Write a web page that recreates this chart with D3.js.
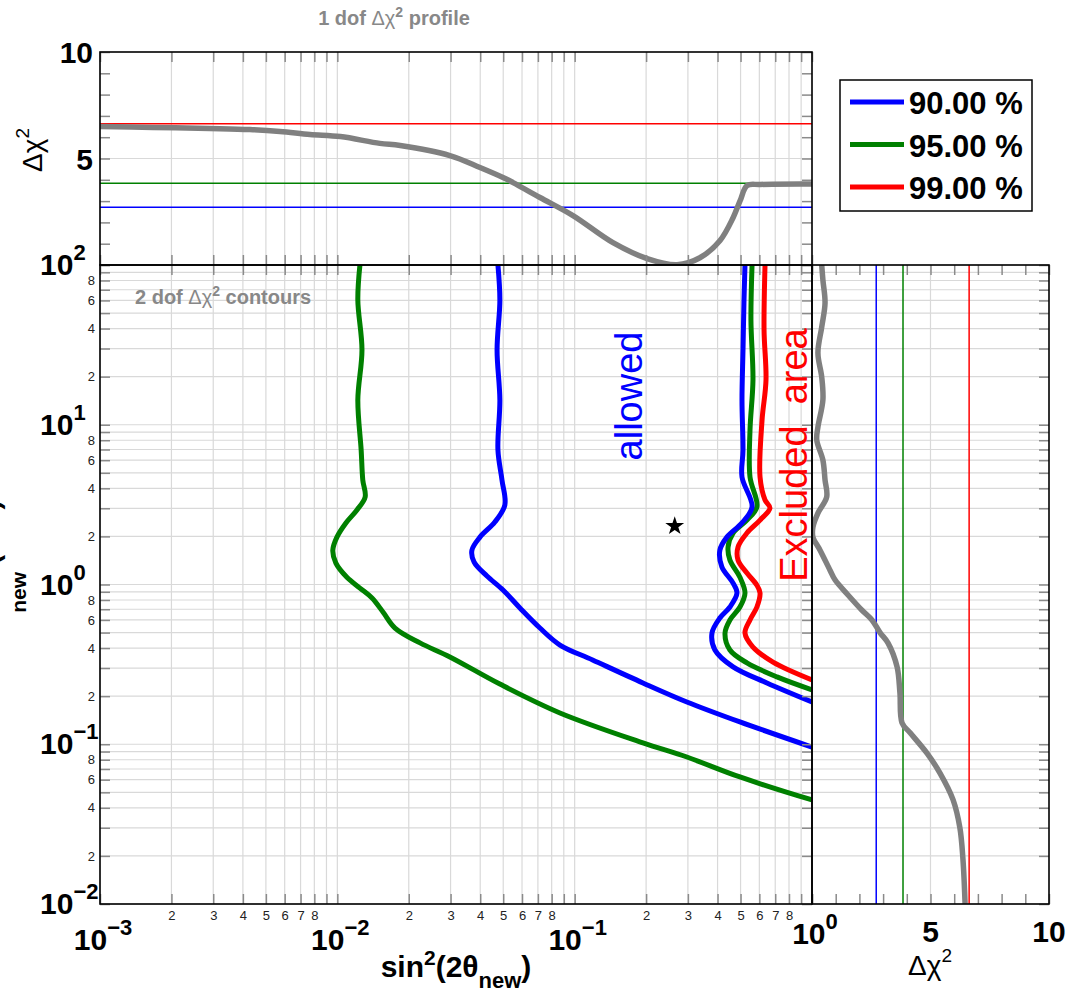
<!DOCTYPE html>
<html>
<head>
<meta charset="utf-8">
<script src="https://cdn.jsdelivr.net/npm/d3@7"></script>
<style>
body { margin: 0; background: #fff; }
svg { display: block; }
text { font-family: "Liberation Sans", Arial, Helvetica, sans-serif; }
</style>
</head>
<body>
<div id="chart"></div>
<script>
// confidence levels (1 dof thresholds for the profiles)
var clNames = ["90.00 %", "95.00 %", "99.00 %"];
var clColors = ["#0000ff", "#008000", "#ff0000"];
var clChi2 = [2.71, 3.84, 6.63];

// 1 dof profile vs sin^2(2theta)
var profSin = [0.001, 0.00167, 0.0029, 0.00428, 0.00573, 0.00767, 0.0103, 0.0151, 0.0184, 0.0298, 0.0399,
    0.0499, 0.055, 0.0714, 0.0984, 0.145, 0.202, 0.27, 0.337, 0.409, 0.465, 0.498, 0.533, 0.604, 1.0];
var profSinChi2 = [6.50, 6.46, 6.41, 6.36, 6.27, 6.13, 6.03, 5.71, 5.61, 5.14, 4.58,
    4.11, 3.87, 3.17, 2.32, 1.05, 0.30, 0.01, 0.34, 1.14, 2.22, 3.02, 3.73, 3.78, 3.80];

// 1 dof profile vs dm2
var profDm = [100, 80.5, 57.8, 40.9, 28.1, 19.9, 14.3, 9.68, 8.03, 6.01, 4.51, 3.53, 2.80, 2.29, 1.98, 1.64,
    1.23, 1.07, 0.86, 0.69, 0.60, 0.50, 0.43, 0.305, 0.21, 0.136, 0.118, 0.088, 0.066, 0.045, 0.030, 0.019, 0.01];
var profDmChi2 = [0.41, 0.46, 0.55, 0.41, 0.25, 0.41, 0.46, 0.25, 0.20, 0.46, 0.55, 0.62, 0.25, 0.04, 0.04, 0.34,
    0.76, 0.97, 1.52, 2.11, 2.53, 2.87, 3.21, 3.59, 3.71, 3.80, 4.14, 4.85, 5.40, 5.95, 6.24, 6.37, 6.46];

// 2 dof contours, [sin2(2theta), dm2]
var blueLeft = [[0.0475, 100], [0.0484, 60.4], [0.0471, 29.4], [0.0484, 14.3], [0.0475, 6.95], [0.0494, 4.51],
    [0.0508, 3.15], [0.0461, 2.46], [0.0399, 1.98], [0.0369, 1.64], [0.0377, 1.38], [0.0427, 1.13],
    [0.0499, 0.924], [0.0588, 0.713], [0.0714, 0.534], [0.0867, 0.418], [0.119, 0.337], [0.194, 0.242],
    [0.297, 0.184], [0.497, 0.138], [1.0, 0.096]];
var greenLeft = [[0.01245, 100], [0.0122, 60.4], [0.0127, 29.4], [0.0122, 14.3], [0.0126, 6.95], [0.0128, 4.51],
    [0.0131, 3.53], [0.0121, 2.93], [0.01087, 2.43], [0.00996, 1.98], [0.00957, 1.64], [0.00986, 1.36],
    [0.01097, 1.11], [0.01245, 0.95], [0.0140, 0.823], [0.01557, 0.673], [0.0175, 0.534], [0.0223, 0.431],
    [0.0298, 0.352], [0.0484, 0.238], [0.0867, 0.157], [0.194, 0.102], [0.297, 0.0832], [0.497, 0.0624],
    [1.0, 0.0448]];
var blueRight = [[0.522, 100], [0.517, 60.4], [0.512, 29.4], [0.507, 14.3], [0.512, 6.95], [0.507, 4.71],
    [0.559, 3.06], [0.507, 2.43], [0.438, 1.98], [0.409, 1.64], [0.417, 1.29], [0.465, 1.02], [0.483, 0.885],
    [0.451, 0.723], [0.409, 0.617], [0.379, 0.497], [0.390, 0.389], [0.465, 0.305], [0.646, 0.242], [1.0, 0.184]];
var greenRight = [[0.559, 100], [0.553, 45.3], [0.564, 19.1], [0.548, 9.27], [0.548, 4.71], [0.586, 3.06],
    [0.532, 2.53], [0.465, 2.10], [0.443, 1.72], [0.451, 1.42], [0.497, 1.11], [0.522, 0.885], [0.497, 0.723],
    [0.451, 0.60], [0.430, 0.497], [0.451, 0.389], [0.532, 0.323], [0.712, 0.264], [1.0, 0.219]];
var redRight = [[0.634, 100], [0.628, 39.2], [0.640, 19.1], [0.616, 10.7], [0.604, 4.71], [0.634, 3.38],
    [0.665, 3.01], [0.604, 2.53], [0.532, 2.10], [0.488, 1.72], [0.488, 1.42], [0.532, 1.18], [0.586, 0.99],
    [0.604, 0.885], [0.586, 0.723], [0.548, 0.60], [0.522, 0.497], [0.564, 0.406], [0.685, 0.327], [1.0, 0.253]];
var bestFit = [0.264, 2.32];

// tick labels
var xMajorExp = [-3, -2, -1, 0];
var yMajorExp = [-2, -1, 0, 1, 2];
var xMinorDigits = [2, 3, 4, 5, 6, 7, 8];
var yMinorDigits = [2, 4, 6, 8];
var topYLabels = [5, 10];
var rightXLabels = [5, 10];

var W = 1068, H = 993;
var L = 100, R = 812, R2 = 1049, T = 52, M = 265, B = 904;

var svg = d3.select("#chart").append("svg").attr("width", W).attr("height", H);

var x = d3.scaleLog().domain([1e-3, 1]).range([L, R]);
var y = d3.scaleLog().domain([1e-2, 1e2]).range([B, M]);
var yTop = d3.scaleLinear().domain([0, 10]).range([M, T]);
var xRight = d3.scaleLinear().domain([0, 10]).range([R, R2]);

var logTicks = function (lo, hi) {
    var t = [];
    for (var e = lo; e < hi; e++)
        for (var k = 1; k < 10; k++) t.push(+(k + "e" + e));
    t.push(+("1e" + hi));
    return t;
};
var xTicks = logTicks(-3, 0);
var yTicks = logTicks(-2, 2);
var unitTicks = d3.range(0, 11);
var leading = function (v) { return Math.round(v / Math.pow(10, Math.floor(Math.log10(v) + 1e-9))); };

var gridColor = "#d9d9d9";
var tickColor = "#8a8a8a";

// grids
var grid = svg.append("g").attr("stroke", gridColor).attr("stroke-width", 1.2);
grid.selectAll(".gx").data(xTicks).enter().append("line")
    .attr("x1", x).attr("x2", x).attr("y1", T).attr("y2", B);
grid.selectAll(".gy").data(yTicks).enter().append("line")
    .attr("x1", L).attr("x2", R2).attr("y1", y).attr("y2", y);
grid.append("line").attr("x1", L).attr("x2", R).attr("y1", yTop(5)).attr("y2", yTop(5));
grid.append("line").attr("x1", xRight(5)).attr("x2", xRight(5)).attr("y1", M).attr("y2", B);

// clips
var defs = svg.append("defs");
defs.append("clipPath").attr("id", "clipMain").append("rect")
    .attr("x", L).attr("y", M).attr("width", R - L).attr("height", B - M);
defs.append("clipPath").attr("id", "clipTop").append("rect")
    .attr("x", L).attr("y", T).attr("width", R - L).attr("height", M - T);
defs.append("clipPath").attr("id", "clipRight").append("rect")
    .attr("x", R).attr("y", M).attr("width", R2 - R).attr("height", B - M);

// CL lines in top and right panels
svg.selectAll(".clh").data(clChi2).enter().append("line")
    .attr("x1", L).attr("x2", R)
    .attr("y1", function (d) { return yTop(d); }).attr("y2", function (d) { return yTop(d); })
    .attr("stroke", function (d, i) { return clColors[i]; }).attr("stroke-width", 1.5);
svg.selectAll(".clv").data(clChi2).enter().append("line")
    .attr("y1", M).attr("y2", B)
    .attr("x1", function (d) { return xRight(d); }).attr("x2", function (d) { return xRight(d); })
    .attr("stroke", function (d, i) { return clColors[i]; }).attr("stroke-width", 1.5);

// profiles
var topLine = d3.line()
    .x(function (d, i) { return x(profSin[i]); })
    .y(function (d) { return yTop(d); })
    .curve(d3.curveCatmullRom.alpha(0.5));
svg.append("path").datum(profSinChi2).attr("clip-path", "url(#clipTop)")
    .attr("d", topLine).attr("fill", "none").attr("stroke", "#808080").attr("stroke-width", 5.5);

var rightLine = d3.line()
    .x(function (d) { return xRight(d); })
    .y(function (d, i) { return y(profDm[i]); })
    .curve(d3.curveCatmullRom.alpha(0.5));
svg.append("path").datum(profDmChi2).attr("clip-path", "url(#clipRight)")
    .attr("d", rightLine).attr("fill", "none").attr("stroke", "#808080").attr("stroke-width", 5.5);

// contours
var contourLine = d3.line()
    .x(function (d) { return x(d[0]); })
    .y(function (d) { return y(d[1]); })
    .curve(d3.curveCatmullRom.alpha(0.5));
var contours = [[greenLeft, clColors[1]], [blueLeft, clColors[0]], [redRight, clColors[2]],
    [greenRight, clColors[1]], [blueRight, clColors[0]]];
svg.append("g").attr("clip-path", "url(#clipMain)")
    .selectAll("path").data(contours).enter().append("path")
    .attr("d", function (d) { return contourLine(d[0]); })
    .attr("fill", "none")
    .attr("stroke", function (d) { return d[1]; })
    .attr("stroke-width", 5);

// best fit
svg.append("path")
    .attr("d", d3.symbol().type(d3.symbolStar).size(110))
    .attr("transform", "translate(" + x(bestFit[0]) + "," + y(bestFit[1]) + ")")
    .attr("fill", "#000");

// ticks
var styleAxis = function (g) {
    g.select(".domain").remove();
    g.selectAll(".tick line").attr("stroke", tickColor).attr("stroke-width", 1.5);
    g.selectAll(".tick text").attr("fill", "#222").style("font-size", "13px")
        .style("font-family", "'Liberation Sans', Arial, sans-serif");
};
var minorX = function (d) { var k = leading(d); return xMinorDigits.indexOf(k) >= 0 ? k : ""; };
var minorY = function (d) { var k = leading(d); return yMinorDigits.indexOf(k) >= 0 ? k : ""; };

svg.append("g").attr("transform", "translate(0," + B + ")")
    .call(d3.axisBottom(x).tickValues(xTicks).tickSize(-10).tickPadding(7).tickFormat(minorX)).call(styleAxis);
svg.append("g").attr("transform", "translate(0," + M + ")")
    .call(d3.axisTop(x).tickValues(xTicks).tickSize(-10).tickFormat("")).call(styleAxis);
svg.append("g").attr("transform", "translate(0," + M + ")")
    .call(d3.axisBottom(x).tickValues(xTicks).tickSize(-10).tickFormat("")).call(styleAxis);
svg.append("g").attr("transform", "translate(0," + T + ")")
    .call(d3.axisTop(x).tickValues(xTicks).tickSize(-10).tickFormat("")).call(styleAxis);
svg.append("g").attr("transform", "translate(" + L + ",0)")
    .call(d3.axisLeft(y).tickValues(yTicks).tickSize(-10).tickPadding(5).tickFormat(minorY)).call(styleAxis);
svg.append("g").attr("transform", "translate(" + R + ",0)")
    .call(d3.axisRight(y).tickValues(yTicks).tickSize(-10).tickFormat("")).call(styleAxis);
svg.append("g").attr("transform", "translate(" + R2 + ",0)")
    .call(d3.axisRight(y).tickValues(yTicks).tickSize(-10).tickFormat("")).call(styleAxis);
svg.append("g").attr("transform", "translate(" + L + ",0)")
    .call(d3.axisLeft(yTop).tickValues(unitTicks).tickSize(-10).tickFormat("")).call(styleAxis);
svg.append("g").attr("transform", "translate(" + R + ",0)")
    .call(d3.axisRight(yTop).tickValues(unitTicks).tickSize(-10).tickFormat("")).call(styleAxis);
svg.append("g").attr("transform", "translate(0," + B + ")")
    .call(d3.axisBottom(xRight).tickValues(unitTicks).tickSize(-10).tickFormat("")).call(styleAxis);
svg.append("g").attr("transform", "translate(0," + M + ")")
    .call(d3.axisTop(xRight).tickValues(unitTicks).tickSize(-10).tickFormat("")).call(styleAxis);

// frames
var frames = [[L, T, R, M], [L, M, R, B], [R, M, R2, B]];
svg.selectAll(".frame").data(frames).enter().append("rect")
    .attr("x", function (d) { return d[0]; }).attr("y", function (d) { return d[1]; })
    .attr("width", function (d) { return d[2] - d[0]; }).attr("height", function (d) { return d[3] - d[1]; })
    .attr("fill", "none").attr("stroke", "#000").attr("stroke-width", 1.6);

// power-of-ten labels
var powLabel = function (sel, big, small, lift) {
    sel.each(function (d) {
        var t = d3.select(this);
        t.append("tspan").style("font-size", big + "px").text("10");
        t.append("tspan").attr("dy", -lift).style("font-size", small + "px")
            .text(d < 0 ? "\u2212" + (-d) : d);
    });
};
svg.selectAll(".xmaj").data(xMajorExp).enter().append("text")
    .attr("x", function (d) { return x(Math.pow(10, d)) + 3; })
    .attr("y", function (d) { return d === 0 ? 944 : 950; })
    .attr("text-anchor", "middle").attr("font-weight", "bold")
    .call(powLabel, 30, 22, 15);
svg.selectAll(".ymaj").data(yMajorExp).enter().append("text")
    .attr("x", 40)
    .attr("y", function (d) { return y(Math.pow(10, d)) + 10; })
    .attr("font-weight", "bold")
    .call(powLabel, 30, 22, 15);
svg.selectAll(".ytop").data(topYLabels).enter().append("text")
    .attr("x", 93).attr("y", function (d) { return yTop(d) + 11; })
    .attr("text-anchor", "end").attr("font-weight", "bold").style("font-size", "30px")
    .text(function (d) { return d; });
svg.selectAll(".xright").data(rightXLabels).enter().append("text")
    .attr("x", function (d) { return xRight(d); }).attr("y", 942)
    .attr("text-anchor", "middle").attr("font-weight", "bold").style("font-size", "30px")
    .text(function (d) { return d; });

// axis titles
var xt = svg.append("text").attr("x", 456).attr("y", 977).attr("text-anchor", "middle")
    .attr("font-weight", "bold").style("font-size", "30px");
xt.append("tspan").text("sin");
xt.append("tspan").attr("dy", -12).style("font-size", "21px").text("2");
xt.append("tspan").attr("dy", 12).text("(2\u03b8");
xt.append("tspan").attr("dy", 11).style("font-size", "22px").text("new");
xt.append("tspan").attr("dy", -11).text(")");

// y title sits mostly beyond the left edge, as in the original
var yt = svg.append("text").attr("transform", "translate(-1,658) rotate(-90)")
    .attr("font-weight", "bold").style("font-size", "28px");
yt.append("tspan").text("\u0394m");
yt.append("tspan").attr("dy", -12).style("font-size", "20px").text("2");
yt.append("tspan").attr("dx", -11).attr("dy", 39).style("font-size", "21px").text("new");
yt.append("tspan").attr("dy", -27).text(" (eV");
yt.append("tspan").attr("dy", -12).style("font-size", "20px").text("2");
yt.append("tspan").attr("dy", 12).text(")");

var chiTitle = function (t, size) {
    t.append("tspan").text("\u0394\u03c7");
    t.append("tspan").attr("dy", -size * 0.45).style("font-size", (size * 0.68) + "px").text("2");
};
svg.append("text").attr("transform", "translate(42,150) rotate(-90)").attr("text-anchor", "middle")
    .style("font-size", "28px").call(chiTitle, 28);
svg.append("text").attr("x", 930).attr("y", 975).attr("text-anchor", "middle")
    .style("font-size", "28px").call(chiTitle, 28);

// panel titles
var grayTitle = function (t, before, after) {
    t.append("tspan").text(before);
    t.append("tspan").attr("font-weight", "normal").text("\u0394\u03c7");
    t.append("tspan").attr("dy", -8).style("font-size", "14px").text("2");
    t.append("tspan").attr("dy", 8).text(after);
};
svg.append("text").attr("x", 394).attr("y", 25).attr("text-anchor", "middle")
    .attr("font-weight", "bold").attr("fill", "#888").style("font-size", "20px")
    .call(grayTitle, "1 dof ", " profile");
svg.append("text").attr("x", 135).attr("y", 304)
    .attr("font-weight", "bold").attr("fill", "#888").style("font-size", "20px")
    .call(grayTitle, "2 dof ", " contours");

// region labels
svg.append("text").attr("transform", "translate(642,396) rotate(-90)").attr("text-anchor", "middle")
    .attr("fill", "#0000ff").style("font-size", "38px").text("allowed");
svg.append("text").attr("transform", "translate(807,455) rotate(-90)").attr("text-anchor", "middle")
    .attr("fill", "#ff0000").style("font-size", "38px").style("white-space", "pre").text("Excluded  area");

// legend
var leg = svg.append("g");
leg.append("rect").attr("x", 840).attr("y", 80).attr("width", 192).attr("height", 131)
    .attr("fill", "#fff").attr("stroke", "#000").attr("stroke-width", 1.5);
var items = leg.selectAll(".item").data(clNames).enter().append("g")
    .attr("transform", function (d, i) { return "translate(0," + (102 + i * 42.5) + ")"; });
items.append("line").attr("x1", 850).attr("x2", 904).attr("y1", 0).attr("y2", 0)
    .attr("stroke", function (d, i) { return clColors[i]; }).attr("stroke-width", 5);
items.append("text").attr("x", 909).attr("y", 12).attr("font-weight", "bold").style("font-size", "31px")
    .text(function (d) { return d; });
</script>
</body>
</html>
